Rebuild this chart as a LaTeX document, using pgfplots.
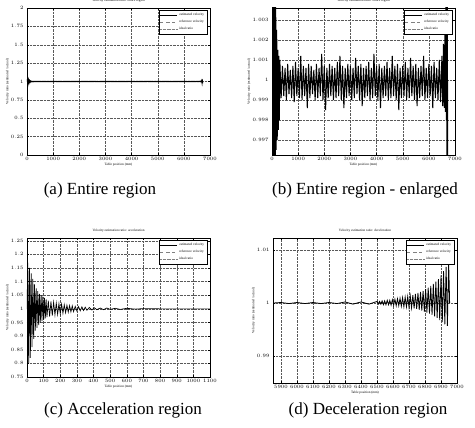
\documentclass[border=0pt]{standalone}
\usepackage{fontspec}
\setmainfont{Liberation Serif}
\usepackage{pgfplots}
\pgfplotsset{compat=1.18}
\usepackage{pgfplotstable}

% velocity ratio over the whole travel
\pgfplotstableread[row sep=\\]{
x y\\
0 1.000\\ 20 1.030\\ 40 0.975\\ 60 1.020\\ 80 0.985\\ 100 1.010\\ 120 0.992\\ 140 1.0045\\ 160 0.9965\\ 180 1.0025\\
200 0.9970\\ 220 1.0015\\ 240 0.9975\\ 260 1.0012\\ 280 0.9980\\ 300 1.0010\\
350 0.9991\\ 400 1.0007\\ 450 0.9992\\ 500 1.0006\\ 550 0.9990\\ 600 1.0008\\ 650 0.9993\\ 700 1.0005\\ 750 0.9991\\ 800 1.0007\\
850 0.9989\\ 900 1.0009\\ 950 0.9992\\ 1000 1.0006\\ 1050 0.9991\\ 1100 1.0012\\ 1150 0.9990\\ 1200 1.0007\\ 1250 0.9992\\ 1300 1.0006\\
1350 0.9986\\ 1400 1.0008\\ 1450 0.9991\\ 1500 1.0007\\ 1550 0.9993\\ 1600 1.0005\\ 1650 0.9990\\ 1700 1.0008\\ 1750 0.9991\\ 1800 1.0006\\
1850 0.9992\\ 1900 1.0013\\ 1950 0.9990\\ 2000 1.0007\\ 2050 0.9985\\ 2100 1.0006\\ 2150 0.9991\\ 2200 1.0008\\ 2250 0.9992\\ 2300 1.0007\\
2350 0.9990\\ 2400 1.0006\\ 2450 0.9991\\ 2500 1.0009\\ 2550 0.9992\\ 2600 1.0012\\ 2650 0.9990\\ 2700 1.0007\\ 2750 0.9986\\ 2800 1.0006\\
2850 0.9991\\ 2900 1.0008\\ 2950 0.9992\\ 3000 1.0007\\ 3050 0.9990\\ 3100 1.0006\\ 3150 0.9991\\ 3200 1.0011\\ 3250 0.9993\\ 3300 1.0007\\
3350 0.9990\\ 3400 1.0008\\ 3450 0.9987\\ 3500 1.0006\\ 3550 0.9991\\ 3600 1.0007\\ 3650 0.9992\\ 3700 1.0009\\ 3750 0.9990\\ 3800 1.0006\\
3850 0.9991\\ 3900 1.0013\\ 3950 0.9992\\ 4000 1.0007\\ 4050 0.9990\\ 4100 1.0008\\ 4150 0.9986\\ 4200 1.0006\\ 4250 0.9991\\ 4300 1.0007\\
4350 0.9992\\ 4400 1.0009\\ 4450 0.9990\\ 4500 1.0006\\ 4550 0.9991\\ 4600 1.0012\\ 4650 0.9992\\ 4700 1.0007\\ 4750 0.9990\\ 4800 1.0008\\
4850 0.9985\\ 4900 1.0006\\ 4950 0.9991\\ 5000 1.0007\\ 5050 0.9992\\ 5100 1.0009\\ 5150 0.9990\\ 5200 1.0006\\ 5250 0.9991\\ 5300 1.0011\\
5350 0.9992\\ 5400 1.0007\\ 5450 0.9990\\ 5500 1.0008\\ 5550 0.9987\\ 5600 1.0006\\ 5650 0.9991\\ 5700 1.0007\\ 5750 0.9992\\ 5800 1.0012\\
5850 0.9990\\ 5900 1.0006\\ 5950 0.9991\\ 6000 1.0008\\ 6050 0.9992\\ 6100 1.0007\\ 6150 0.9986\\ 6200 1.0009\\ 6250 0.9991\\ 6300 1.0006\\
6350 0.9990\\ 6400 1.0010\\ 6450 0.9989\\ 6500 1.0012\\
6530 0.9987\\ 6560 1.0018\\ 6590 0.9986\\ 6615 1.0028\\ 6635 0.9984\\ 6655 1.0045\\ 6670 0.9980\\ 6685 1.012\\ 6695 0.990\\ 6705 1.030\\
6712 0.975\\ 6718 1.000\\
}\entire

% acceleration region
\pgfplotstableread[row sep=\\]{
x y\\
0 1.00\\ 5 1.17\\ 10 0.80\\ 15 1.15\\ 20 0.82\\ 25 1.13\\ 30 0.86\\ 35 1.11\\ 40 0.89\\ 45 1.09\\
50 0.92\\ 55 1.075\\ 60 0.93\\ 65 1.065\\ 70 0.94\\ 75 1.055\\ 80 0.95\\ 85 1.05\\ 90 0.955\\ 95 1.045\\
100 0.96\\ 105 1.04\\ 110 0.965\\ 115 1.035\\ 120 0.97\\ 128 1.03\\ 136 0.972\\ 144 1.027\\ 152 0.975\\ 160 1.024\\
168 0.978\\ 176 1.021\\ 184 0.98\\ 192 1.019\\ 200 0.982\\ 208 1.017\\ 216 0.984\\ 224 1.015\\ 232 0.986\\ 240 1.013\\
248 0.988\\ 256 1.012\\ 264 0.989\\ 272 1.011\\ 280 0.99\\ 290 1.009\\ 300 0.992\\ 310 1.008\\ 320 0.993\\ 330 1.007\\
340 0.994\\ 350 1.006\\ 360 0.995\\ 375 1.005\\ 390 0.996\\ 405 1.004\\ 420 0.997\\ 440 1.003\\ 460 0.997\\ 480 1.003\\
500 0.998\\ 530 1.002\\ 560 0.998\\ 600 1.002\\ 650 0.999\\ 700 1.001\\ 800 1.0\\ 900 1.0\\ 1000 1.0\\ 1100 1.0\\
}\accel

% deceleration region
\pgfplotstableread[row sep=\\]{
x y\\
5850 1.0000\\ 5900 1.0001\\ 5950 0.9999\\ 6000 1.0001\\ 6050 0.9999\\ 6100 1.0001\\ 6150 0.9999\\ 6200 1.0001\\
6250 0.9999\\ 6300 1.0002\\ 6350 0.9998\\ 6400 1.0002\\ 6450 0.9998\\
6500 1.0003\\ 6508 0.9998\\ 6516 1.0003\\ 6524 0.9998\\ 6532 1.0004\\ 6540 0.9997\\ 6548 1.0004\\ 6556 0.9997\\
6564 1.0005\\ 6572 0.9997\\ 6580 1.0005\\ 6588 0.9996\\ 6596 1.0006\\ 6604 0.9996\\ 6612 1.0007\\ 6620 0.9995\\
6628 1.0008\\ 6636 0.9995\\ 6644 1.0009\\ 6652 0.9994\\ 6660 1.0010\\ 6668 0.9993\\ 6676 1.0011\\ 6684 0.9993\\
6692 1.0012\\ 6700 0.9992\\ 6708 1.0013\\ 6716 0.9991\\ 6724 1.0015\\ 6732 0.9990\\ 6740 1.0017\\ 6748 0.9989\\
6756 1.0019\\ 6764 0.9987\\ 6772 1.0021\\ 6780 0.9986\\ 6788 1.0023\\ 6796 0.9984\\ 6804 1.0026\\ 6812 0.9982\\
6820 1.0029\\ 6828 0.9980\\ 6836 1.0032\\ 6844 0.9978\\ 6852 1.0036\\ 6860 0.9975\\ 6868 1.0040\\ 6876 0.9972\\
6884 1.0045\\ 6892 0.9968\\ 6900 1.0052\\ 6908 0.9964\\ 6916 1.0060\\ 6924 0.9960\\ 6932 1.0068\\ 6940 0.9957\\
6948 1.0075\\ 6954 1.0000\\
}\decel

\newcommand\tinyfont{\fontsize{3.4}{4}\selectfont}

\pgfplotsset{
  matstyle/.style={
    scale only axis,
    anchor=south west,
    grid=major,
    grid style={densely dotted, black!65, line width=0.3pt},
    axis line style={line width=0.6pt},
    tick style={black, line width=0.3pt},
    major tick length=2pt,
    ticklabel style={font=\tinyfont},
    xticklabel style={yshift=1pt},
    label style={font=\tinyfont},
    xlabel style={yshift=4pt},
    ylabel style={yshift=-5pt},
    title style={font=\tinyfont, yshift=-4pt},
    scaled ticks=false,
    /pgf/number format/1000 sep={},
    legend style={font=\tinyfont, at={(0.985,0.985)}, anchor=north east,
      draw=black, line width=0.3pt, inner sep=1pt, row sep=-1pt},
    legend cell align=left,
    legend image post style={line width=0.3pt},
    xlabel={Table position (mm)},
    ylabel={Velocity ratio (estimated / actual)},
  },
}

\begin{document}
\begin{tikzpicture}
\useasboundingbox (0,0) rectangle (475pt,-428pt);

% (a)
\begin{axis}[matstyle, at={(27pt,-155pt)}, width=183pt, height=147pt,
  xmin=0, xmax=7000, xtick={0,1000,...,7000},
  ymin=0, ymax=2, ytick={0,0.25,...,2},
  title={Velocity estimation ratio: entire region}]
  \addplot[black, line width=1.1pt] table {\entire};
  \addlegendentry{estimated velocity}
  \addlegendimage{gray, dashed}
  \addlegendentry{reference velocity}
  \addlegendimage{gray, densely dotted}
  \addlegendentry{ideal ratio}
\end{axis}

% (b)
\begin{axis}[matstyle, at={(272pt,-155pt)}, width=183pt, height=147pt,
  xmin=0, xmax=7000, xtick={0,1000,...,7000},
  ymin=0.99625, ymax=1.0036, ytick={0.997,0.998,...,1.0031},
  yticklabel style={/pgf/number format/fixed, /pgf/number format/precision=3},
  title={Velocity estimation ratio: entire region}]
  \addplot[black, line width=1.0pt] table {\entire};
  \addlegendentry{estimated velocity}
  \addlegendimage{gray, dashed}
  \addlegendentry{reference velocity}
  \addlegendimage{gray, densely dotted}
  \addlegendentry{ideal ratio}
\end{axis}

% (c)
\begin{axis}[matstyle, at={(27pt,-377pt)}, width=183pt, height=139pt,
  xmin=0, xmax=1100, xtick={0,100,...,1100},
  ymin=0.75, ymax=1.26, ytick={0.75,0.8,...,1.26},
  title={Velocity estimation ratio: acceleration}]
  \addplot[black, line width=0.7pt] table {\accel};
  \addlegendentry{estimated velocity}
  \addlegendimage{gray, dashed}
  \addlegendentry{reference velocity}
  \addlegendimage{gray, densely dotted}
  \addlegendentry{ideal ratio}
\end{axis}

% (d)
\begin{axis}[matstyle, at={(273pt,-383pt)}, width=184pt, height=145pt,
  xmin=5850, xmax=7000, xtick={5900,6000,...,7000},
  ymin=0.985, ymax=1.0122, ytick={0.99,1,1.01},
  title={Velocity estimation ratio: deceleration}]
  \addplot[black, line width=0.8pt] table {\decel};
  \addlegendentry{estimated velocity}
  \addlegendimage{gray, dashed}
  \addlegendentry{reference velocity}
  \addlegendimage{gray, densely dotted}
  \addlegendentry{ideal ratio}
\end{axis}

\begin{scope}[every node/.style={font=\fontsize{17}{19}\selectfont, inner sep=0pt}]
  \node at (100pt,-190pt) {(a) Entire region};
  \node at (365pt,-190pt) {(b) Entire region - enlarged};
  \node at (123pt,-410pt) {(c) Acceleration region};
  \node at (368pt,-410pt) {(d) Deceleration region};
\end{scope}
\end{tikzpicture}
\end{document}
